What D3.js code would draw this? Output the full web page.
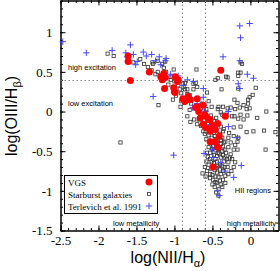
<!DOCTYPE html>
<html lang="en">

<head>
    <meta charset="UTF-8">
    <title>BPT diagram</title>
    <style>
        body { margin: 0; background: #fff; }
        .tick line { stroke: #000; }
        .domain { stroke: #000; }
    </style>
</head>

<body>
    <div id="my_dataviz"></div>

    <script src="https://d3js.org/d3.v7.min.js"></script>
    <script>
        // data: [log(NII/Ha), log(OIII/Hb)]
        var vgs = [
            [-1.58, 0.39], [-1.61, 0.70], [-1.61, 0.63], [-1.33, 0.50], [-1.14, 0.48],
            [-1.18, 0.44], [-1.12, 0.43], [-1.16, 0.40], [-0.99, 0.44], [-0.95, 0.40],
            [-0.96, 0.38], [-1.13, 0.29], [-1.01, 0.30], [-1.00, 0.25], [-0.99, 0.24],
            [-0.89, 0.16], [-0.83, 0.16], [-0.82, 0.19], [-0.79, 0.15], [-0.86, 0.13],
            [-0.70, 0.16], [-0.72, 0.05], [-0.68, 0.00], [-0.62, 0.08], [-0.70, 0.06],
            [-0.59, -0.06], [-0.66, -0.08], [-0.62, -0.16], [-0.53, -0.10], [-0.50, -0.18],
            [-0.59, -0.20], [-0.43, -0.15], [-0.46, -0.23], [-0.53, -0.25], [-0.33, -0.06],
            [-0.55, -0.10], [-0.60, -0.04], [-0.39, 0.52], [-0.53, -0.38], [-0.46, -0.38],
            [-0.41, -0.31], [-0.43, -0.45], [-0.49, -0.70]
        ];

        var starburst = [
            [-1.88, 0.73], [-1.80, 0.70], [-1.54, 0.62], [-1.71, -0.39],
            [-0.46, 0.40], [-0.32, 0.44], [-0.16, 0.49], [-0.11, 0.60], [-0.16, 0.45],
            [-0.38, 0.28], [-0.21, 0.15], [-0.03, 0.10], [-0.01, 0.18], [-0.14, 0.05],
            [-0.05, 0.03], [-0.01, 0.04], [0.21, 0.00], [-0.16, -0.09], [-0.09, -0.10],
            [-0.04, -0.05], [-0.21, -0.06], [-0.37, -0.04], [-0.42, 0.06], [-0.36, 0.06],
            [-0.30, 0.04], [-0.57, 0.24], [-0.55, 0.13], [-0.51, 0.06], [-0.91, 0.13],
            [-1.21, 0.08], [-0.75, 0.35], [-0.72, 0.36], [-0.70, 0.31], [-0.75, 0.28],
            [-0.80, 0.21], [-0.86, 0.28], [-0.88, 0.31], [-0.89, 0.35], [-0.86, 0.36],
            [-1.01, 0.53], [-1.14, 0.55], [-1.11, 0.50], [-1.22, 0.50], [-1.29, 0.62],
            [-1.28, 0.60], [-1.22, 0.64], [-1.16, 0.60], [-1.12, 0.63], [-1.05, 0.44],
            [-0.71, 0.53], [-0.43, 0.42], [-0.30, 0.43], [-0.13, 0.49], [-0.13, 0.62],
            [-0.16, 0.29], [0.07, 0.30], [0.03, 0.21], [-0.03, 0.15], [-0.09, 0.08],
            [-0.17, 0.11], [-0.20, 0.03], [-0.26, 0.05], [-0.43, 0.03], [-0.39, -0.01],
            [-0.32, -0.04], [-0.24, -0.06], [-0.13, -0.04], [0.09, -0.08], [0.18, -0.24],
            [0.33, -0.26], [-0.92, 0.06], [-0.87, 0.11], [-0.91, 0.23], [-0.83, 0.28],
            [-0.93, 0.28], [-0.70, -0.16], [-0.79, -0.13], [-0.83, -0.06], [-0.74, -0.10],
            [-0.39, -0.19], [-0.36, -0.25], [-0.22, -0.20], [-0.13, -0.19], [-0.05, -0.26],
            [0.04, -0.25], [0.20, -0.48], [-0.16, -0.33], [-0.17, -0.38], [-0.26, -0.54],
            [-0.29, -0.64], [-0.22, -0.70], [-0.29, -0.79], [-0.36, -0.86], [-0.46, -0.89],
            [-0.50, -0.92], [-0.39, -0.92], [-0.63, -0.78], [-0.59, -0.82], [-0.53, -0.79],
            [-0.46, -0.82], [-0.57, -0.75], [-0.49, -0.86], [-0.42, -0.83], [-0.42, -1.06],
            [-0.42, -0.98], [-0.36, -0.75], [-0.30, -0.70], [-0.37, -0.69], [-0.43, -0.69],
            [-0.55, -0.67], [-0.58, -0.63], [-0.53, -0.60], [-0.46, -0.60], [-0.39, -0.58],
            [-0.33, -0.58], [-0.32, -0.52], [-0.37, -0.50], [-0.43, -0.52], [-0.53, -0.52],
            [-0.57, -0.52], [-0.55, -0.45], [-0.49, -0.44], [-0.36, -0.44], [-0.29, -0.45],
            [-0.26, -0.39], [-0.33, -0.38], [-0.37, -0.33], [-0.29, -0.33], [-0.22, -0.31],
            [-0.20, -0.42], [-0.17, -0.48], [-0.22, -0.48], [-0.24, -0.60], [-0.20, -0.64],
            [-0.60, -0.28], [-0.55, -0.30], [-0.48, -0.27], [-0.40, -0.28], [-0.35, -0.22],
            [-0.28, -0.27], [-0.45, -0.35], [-0.52, -0.40], [-0.58, -0.35], [-0.62, -0.25],
            [-0.65, -0.18], [-0.68, -0.10], [-0.56, -0.15], [-0.48, -0.12], [-0.52, -0.05],
            [-0.45, -0.08], [-1.45, 0.66], [-1.40, 0.60], [-1.35, 0.56], [-1.30, 0.52],
            [-1.25, 0.47], [-1.05, 0.40], [-1.08, 0.34], [-1.00, 0.38], [-0.95, 0.33],
            [-0.98, 0.20], [-1.02, 0.15], [-0.83, 0.22], [-0.78, 0.10], [-0.80, 0.02],
            [-0.64, 0.10], [-0.62, 0.00], [-0.58, 0.03],
            // dense column below the red clump
            [-0.51, -0.33], [-0.47, -0.31], [-0.43, -0.34], [-0.39, -0.36], [-0.35, -0.39],
            [-0.50, -0.47], [-0.46, -0.49], [-0.41, -0.47], [-0.39, -0.41], [-0.34, -0.48],
            [-0.48, -0.55], [-0.44, -0.56], [-0.41, -0.53], [-0.36, -0.55], [-0.31, -0.60],
            [-0.51, -0.63], [-0.48, -0.65], [-0.44, -0.63], [-0.40, -0.67], [-0.35, -0.63],
            [-0.52, -0.72], [-0.47, -0.74], [-0.45, -0.71], [-0.40, -0.73], [-0.34, -0.70],
            [-0.53, -0.84], [-0.50, -0.80], [-0.44, -0.77], [-0.39, -0.79], [-0.33, -0.81],
            [-0.47, -0.95], [-0.44, -0.90], [-0.40, -0.87], [-0.37, -0.95], [-0.33, -0.90],
            [-0.56, -0.57], [-0.60, -0.70], [-0.27, -0.58], [-0.25, -0.75], [-0.45, -1.02]
        ];

        var terlevich = [
            [-2.47, 0.88], [-2.16, 0.74], [-1.82, 0.77], [-1.58, 0.84], [-1.64, 0.74],
            [-1.62, 0.69], [-1.54, 0.72], [-1.49, 0.63], [-1.51, 0.59], [-1.41, 0.75],
            [-1.37, 0.70], [-1.25, 0.64], [-1.12, 0.64], [-1.18, 0.59], [-1.30, 0.72],
            [-1.20, 0.69], [-1.11, 0.67], [-0.83, 0.40], [-0.75, 0.38], [-0.62, 0.29],
            [-1.28, 0.19], [-0.62, 0.18], [-0.76, 0.05], [-0.59, 0.00], [-0.29, -0.19],
            [-0.14, 1.08], [-0.01, 1.11], [-0.13, 0.93], [-0.36, 0.69], [-0.14, 0.64],
            [-0.04, 0.47], [0.04, 0.42], [-0.16, 0.35], [-0.14, 0.29], [-0.63, 0.06],
            [-0.29, 0.00], [-1.01, -0.55], [-0.61, -0.53], [-0.12, -0.68], [-0.43, -1.00],
            [-0.41, -1.06], [-0.17, -0.33], [-0.49, -0.58], [-0.39, -0.64], [-0.50, -0.70],
            [-0.33, -0.75], [-0.22, -0.83], [-1.05, 0.47], [-0.95, 0.45], [-0.88, 0.33],
            [-0.70, 0.10], [-0.55, -0.20], [-0.45, -0.40], [-0.50, -0.48]
        ];

        var xMajor = [-2.5, -2, -1.5, -1, -0.5, 0];
        var yMajor = [-1.5, -1, -0.5, 0, 0.5, 1];
        var legendNames = ["VGS", "Starburst galaxies", "Terlevich et al. 1991"];
        var xCuts = [-0.9, -0.6];
        var yCut = 0.4;

        // minor ticks every 0.1
        var xMinor = d3.range(-25, 4).map(function (d) { return d / 10; });
        var yMinor = d3.range(-15, 15).map(function (d) { return d / 10; });

        var W = 280, H = 271;
        var pLeft = 60.5, pRight = 278.5, pTop = 0.5, pBottom = 230.5;

        var svg = d3.select("#my_dataviz")
            .append("svg")
            .attr("width", W)
            .attr("height", H);

        var x = d3.scaleLinear().domain([-2.5, 0.37]).range([pLeft, pRight]);
        var y = d3.scaleLinear().domain([-1.5, 1.4]).range([pBottom, pTop]);

        var serif = "'Liberation Serif', 'Times New Roman', serif";
        var sans = "'Liberation Sans', Arial, sans-serif";

        // axes, ticks pointing inward on all four sides
        function styleAxis(g, labels) {
            g.selectAll("text")
                .style("font-family", serif)
                .style("font-size", "13px")
                .attr("fill", "#000");
            if (!labels) g.selectAll("text").remove();
        }

        svg.append("g").attr("transform", "translate(0," + pBottom + ")")
            .call(d3.axisBottom(x).tickValues(xMinor).tickSize(-2.5).tickFormat("").tickSizeOuter(0));
        svg.append("g").attr("transform", "translate(0," + pBottom + ")")
            .call(d3.axisBottom(x).tickValues(xMajor).tickSize(-5).tickPadding(5).tickSizeOuter(0).tickFormat(String))
            .call(styleAxis, true);
        svg.append("g").attr("transform", "translate(0," + pTop + ")")
            .call(d3.axisTop(x).tickValues(xMinor).tickSize(-2.5).tickFormat("").tickSizeOuter(0));
        svg.append("g").attr("transform", "translate(0," + pTop + ")")
            .call(d3.axisTop(x).tickValues(xMajor).tickSize(-5).tickSizeOuter(0))
            .call(styleAxis, false);

        svg.append("g").attr("transform", "translate(" + pLeft + ",0)")
            .call(d3.axisLeft(y).tickValues(yMinor).tickSize(-2.5).tickFormat("").tickSizeOuter(0));
        svg.append("g").attr("transform", "translate(" + pLeft + ",0)")
            .call(d3.axisLeft(y).tickValues(yMajor).tickSize(-5).tickPadding(8).tickSizeOuter(0).tickFormat(String))
            .call(styleAxis, true);
        svg.append("g").attr("transform", "translate(" + pRight + ",0)")
            .call(d3.axisRight(y).tickValues(yMinor).tickSize(-2.5).tickFormat("").tickSizeOuter(0));
        svg.append("g").attr("transform", "translate(" + pRight + ",0)")
            .call(d3.axisRight(y).tickValues(yMajor).tickSize(-5).tickSizeOuter(0))
            .call(styleAxis, false);

        // dividing lines
        svg.selectAll(".vcut")
            .data(xCuts)
            .enter()
            .append("line")
            .attr("x1", function (d) { return Math.round(x(d)) + 0.5; })
            .attr("x2", function (d) { return Math.round(x(d)) + 0.5; })
            .attr("y1", pTop)
            .attr("y2", pBottom)
            .attr("stroke", "#888")
            .attr("stroke-dasharray", "1.5,2.5");

        svg.append("line")
            .attr("x1", pLeft)
            .attr("x2", pRight)
            .attr("y1", Math.round(y(yCut)) + 0.5)
            .attr("y2", Math.round(y(yCut)) + 0.5)
            .attr("stroke", "#888")
            .attr("stroke-dasharray", "1.5,2.5");

        // starburst galaxies: open squares
        svg.append("g").selectAll("rect")
            .data(starburst)
            .enter()
            .append("rect")
            .attr("x", function (d) { return x(d[0]) - 1.6; })
            .attr("y", function (d) { return y(d[1]) - 1.6; })
            .attr("width", 3.2)
            .attr("height", 3.2)
            .attr("fill", "none")
            .attr("stroke", "#333")
            .attr("stroke-width", 0.8);

        // Terlevich et al. 1991: plus signs
        function plusPath(px, py, s) {
            return "M" + (px - s) + "," + py + "H" + (px + s) + "M" + px + "," + (py - s) + "V" + (py + s);
        }
        svg.append("g").selectAll("path")
            .data(terlevich)
            .enter()
            .append("path")
            .attr("d", function (d) { return plusPath(x(d[0]), y(d[1]), 3.2); })
            .attr("stroke", "#4646ff")
            .attr("stroke-width", 1)
            .attr("fill", "none");

        // VGS: filled red circles
        svg.append("g").selectAll("circle")
            .data(vgs)
            .enter()
            .append("circle")
            .attr("cx", function (d) { return x(d[0]); })
            .attr("cy", function (d) { return y(d[1]); })
            .attr("r", 3.5)
            .attr("fill", "#ff0000");

        // region labels
        var notes = [
            { t: "high excitation", px: 68, py: 70, a: "start" },
            { t: "low excitation", px: 68, py: 106, a: "start" },
            { t: "low metallicity", px: 113, py: 226, a: "start" },
            { t: "high metallicity", px: 276, py: 226, a: "end" },
            { t: "HII regions", px: 271, py: 193, a: "end" }
        ];
        svg.selectAll(".note")
            .data(notes)
            .enter()
            .append("text")
            .attr("x", function (d) { return d.px; })
            .attr("y", function (d) { return d.py; })
            .attr("text-anchor", function (d) { return d.a; })
            .attr("fill", "#000")
            .style("font-family", sans)
            .style("font-size", "7.5px")
            .text(function (d) { return d.t; });

        // legend
        var lg = svg.append("g");
        lg.append("rect")
            .attr("x", 64.5).attr("y", 175.5)
            .attr("width", 93).attr("height", 38)
            .attr("fill", "#fff").attr("stroke", "#000");
        lg.selectAll("text")
            .data(legendNames)
            .enter()
            .append("text")
            .attr("x", 68)
            .attr("y", function (d, i) { return 185.5 + i * 12; })
            .attr("fill", "#000")
            .style("font-family", serif)
            .style("font-size", "9px")
            .text(function (d) { return d; });
        lg.append("circle").attr("cx", 149).attr("cy", 182).attr("r", 3.5).attr("fill", "#ff0000");
        lg.append("rect").attr("x", 147.4).attr("y", 192.4).attr("width", 3.2).attr("height", 3.2)
            .attr("fill", "none").attr("stroke", "#333").attr("stroke-width", 0.8);
        lg.append("path").attr("d", plusPath(149, 206, 3.2))
            .attr("stroke", "#4646ff").attr("fill", "none");

        // axis titles
        var xt = svg.append("text")
            .attr("x", 168)
            .attr("y", 263)
            .attr("text-anchor", "middle")
            .attr("fill", "#000")
            .style("font-family", sans)
            .style("font-size", "16px");
        xt.append("tspan").text("log(NII/H");
        xt.append("tspan").attr("dy", 4).style("font-size", "11px").text("α");
        xt.append("tspan").attr("dy", -4).text(")");

        var yt = svg.append("text")
            .attr("transform", "translate(17,116) rotate(-90)")
            .attr("text-anchor", "middle")
            .attr("fill", "#000")
            .style("font-family", sans)
            .style("font-size", "16px");
        yt.append("tspan").text("log(OIII/H");
        yt.append("tspan").attr("dy", 4).style("font-size", "11px").text("β");
        yt.append("tspan").attr("dy", -4).text(")");
    </script>
</body>

</html>
